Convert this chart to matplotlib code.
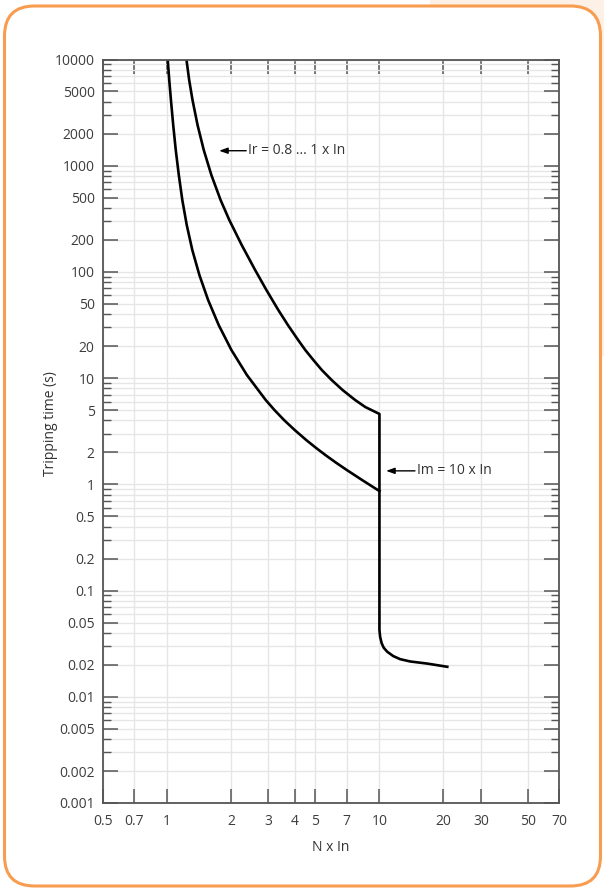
import matplotlib.pyplot as plt
from matplotlib.patches import FancyBboxPatch, Rectangle
from matplotlib.ticker import FixedLocator, FixedFormatter, NullLocator

plt.rcParams['font.family'] = ['Open Sans', 'DejaVu Sans']

# upper curve (Ir = 1 x In), then the instantaneous drop at 10 x In and the tail
upper_x = [1.235, 1.272, 1.319, 1.393, 1.490, 1.618, 1.788, 1.965, 2.248, 2.600, 2.937,
           3.342, 3.709, 4.144, 4.478, 4.889, 5.356, 5.957, 6.706, 7.689, 8.580, 10.0,
           10.0, 10.08, 10.24, 10.47, 10.87, 11.60, 12.52, 13.96, 16.79, 20.86]
upper_t = [10000, 6412, 4155, 2417, 1405, 817.4, 475.3, 308.2, 179.2, 104.2, 67.6,
           43.8, 31.6, 22.85, 18.39, 14.80, 11.92, 9.60, 7.73, 6.22, 5.345, 4.60,
           0.0425, 0.0365, 0.0320, 0.0290, 0.0266, 0.0242, 0.0226, 0.0215, 0.02054, 0.01916]

# lower curve (Ir = 0.8 x In)
lower_x = [1.008, 1.025, 1.044, 1.070, 1.100, 1.137, 1.181, 1.239, 1.316, 1.421, 1.562,
           1.752, 2.011, 2.378, 2.917, 3.206, 3.558, 3.993, 4.524, 5.005, 5.569, 6.235,
           7.023, 8.289, 10.0]
lower_t = [10000, 6412, 4155, 2417, 1405, 817.4, 475.3, 276.4, 160.8, 93.5, 54.4,
           31.6, 18.39, 10.70, 6.22, 5.007, 4.03, 3.245, 2.613, 2.221, 1.887, 1.604,
           1.364, 1.098, 0.865]

x_ticks = [0.5, 0.7, 1, 2, 3, 4, 5, 7, 10, 20, 30, 50, 70]
x_labels = ['0.5', '0.7', '1', '2', '3', '4', '5', '7', '10', '20', '30', '50', '70']
y_ticks = [0.001, 0.002, 0.005, 0.01, 0.02, 0.05, 0.1, 0.2, 0.5, 1, 2, 5, 10, 20, 50,
           100, 200, 500, 1000, 2000, 5000, 10000]
y_labels = ['0.001', '0.002', '0.005', '0.01', '0.02', '0.05', '0.1', '0.2', '0.5', '1',
            '2', '5', '10', '20', '50', '100', '200', '500', '1000', '2000', '5000', '10000']
y_minor = [m * 10.0 ** e for e in range(-3, 4) for m in (3, 4, 6, 7, 8, 9)]

fig = plt.figure(figsize=(6.04, 8.90), dpi=100)

# page background and rounded orange frame
fig.add_artist(Rectangle((430 / 604, 0.6), 1 - 430 / 604, 0.4, transform=fig.transFigure,
                         facecolor='#fdf1e7', edgecolor='none', zorder=-3))
fig.add_artist(FancyBboxPatch((0.045, 0.04), 5.96, 8.80, boxstyle='round,pad=0,rounding_size=0.3',
                              transform=fig.dpi_scale_trans, facecolor='white',
                              edgecolor='#f89c50', linewidth=2.2, zorder=-2))

ax = fig.add_axes([103 / 604, 1 - 803 / 890, (559 - 103) / 604, (803 - 59.5) / 890])
ax.set_xscale('log')
ax.set_yscale('log')
ax.set_xlim(0.5, 70)
ax.set_ylim(0.001, 10000)

ax.plot(upper_x, upper_t, color='black', lw=1.9, solid_joinstyle='round')
ax.plot(lower_x, lower_t, color='black', lw=1.9, solid_joinstyle='round')

ax.xaxis.set_major_locator(FixedLocator(x_ticks))
ax.xaxis.set_major_formatter(FixedFormatter(x_labels))
ax.xaxis.set_minor_locator(NullLocator())
ax.yaxis.set_major_locator(FixedLocator(y_ticks))
ax.yaxis.set_major_formatter(FixedFormatter(y_labels))
ax.yaxis.set_minor_locator(FixedLocator(y_minor))

ax.grid(True, axis='x', which='major', color='#e6e6e6', lw=1.0)
ax.grid(True, axis='y', which='both', color='#e6e6e6', lw=1.0)
ax.set_axisbelow(True)

ax.tick_params(axis='y', which='major', direction='in', length=11, width=1.1, left=True,
               right=True, color='#555555', labelsize=10, labelcolor='#3d3d3d', pad=6)
ax.tick_params(axis='y', which='minor', direction='in', length=5.5, width=1.0, left=True,
               right=True, color='#555555')
ax.tick_params(axis='x', which='major', direction='in', length=10, width=1.1, top=True,
               bottom=True, color='#555555', labelsize=10, labelcolor='#3d3d3d', pad=8)
for s in ax.spines.values():
    s.set_color('#555555')
    s.set_linewidth(1.3)

ax.set_xlabel('N x In', fontsize=10, color='#333333', labelpad=8)
ax.set_ylabel('Tripping time (s)', fontsize=10, color='#333333')
ax.yaxis.set_label_coords(-0.098, 0.51)

arrow = dict(arrowstyle='-|>,head_length=0.5,head_width=0.18', color='black', lw=1.0,
             shrinkA=0, shrinkB=0)
ax.annotate('', xy=(1.76, 1384), xytext=(2.36, 1384), arrowprops=arrow)
ax.text(2.40, 1384, 'Ir = 0.8 ... 1 x In', fontsize=10, color='#333333', va='center', ha='left')
ax.annotate('', xy=(10.75, 1.34), xytext=(14.7, 1.34), arrowprops=arrow)
ax.text(15.0, 1.34, 'Im = 10 x In', fontsize=10, color='#333333', va='center', ha='left')

fig.savefig('out.png', dpi=100)
